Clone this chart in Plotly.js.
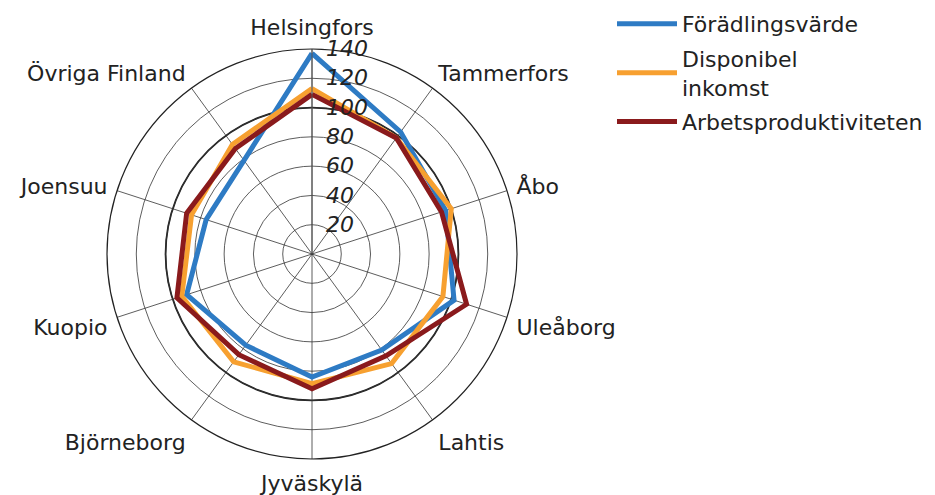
<!DOCTYPE html>
<html><head><meta charset="utf-8">
<script src="https://cdn.plot.ly/plotly-3.0.1.min.js"></script>
<style>html,body{margin:0;padding:0;background:#fff}</style>
</head><body><div id="chart" style="width:935px;height:495px"></div>
<script>
const categories = ["Helsingfors","Tammerfors","Åbo","Uleåborg","Lahtis","Jyväskylä","Björneborg","Kuopio","Joensuu","Övriga Finland"];
const foradlingsvarde = [137,103,96,102,81,84,77,90,76,79];
const disponibelInkomst = [113,98,100,94,92.5,88.5,91,93.5,86.5,92.5];
const arbetsproduktivitet = [109,98,93,111,86,92,85,97,90,89];
const seriesNames = ["Förädlingsvärde","Disponibel<br>inkomst","Arbetsproduktiviteten"];
const seriesColors = ["#2e7bc4","#f7a030","#8a1a1c"];
const radialTicks = [20,40,60,80,100,120,140];

const W = 935, H = 495;
const dom = {x:[107/W, 517/W], y:[36/H, 446/H]};
const rMax = 140;
const cx = (dom.x[0]+dom.x[1])/2*W, cyFromBottom = (dom.y[0]+dom.y[1])/2*H;
const Rpx = (dom.x[1]-dom.x[0])*W/2;
const r100 = 100/rMax*Rpx;

function closed(a){return a.concat([a[0]]);}
const thetaC = closed(categories);
const data = [foradlingsvarde, disponibelInkomst, arbetsproduktivitet].map((v,i)=>({
  type:'scatterpolar', r: closed(v), theta: thetaC, mode:'lines',
  name: seriesNames[i], legendgroup:'g'+i,
  line:{color:seriesColors[i], width:5, shape:'linear'}, hoverinfo:'skip'
}));

const layout = {
  width:W, height:H, margin:{l:0,r:0,t:0,b:0},
  paper_bgcolor:'#fff', font:{family:'DejaVu Sans', color:'#222'},
  showlegend:true,
  legend:{x:612/W, y:1-3/H, xanchor:'left', yanchor:'top', font:{size:22, family:'DejaVu Sans', color:'#222'},
    traceorder:'grouped', tracegroupgap:3, itemwidth:60},
  polar:{
    domain:dom, bgcolor:'rgba(0,0,0,0)',
    angularaxis:{rotation:90, direction:'clockwise', type:'category',
      showline:true, linecolor:'#222', linewidth:1.2,
      gridcolor:'#333', gridwidth:0.8, ticks:'outside', ticklen:5, tickcolor:'rgba(0,0,0,0)',
      tickfont:{size:22, family:'DejaVu Sans', color:'#222'}},
    radialaxis:{range:[0,rMax], angle:90, tickangle:90, tickvals:radialTicks, ticktext:radialTicks.map(String),
      showline:true, linecolor:'#555', linewidth:1, ticks:'outside', ticklen:9, tickcolor:'rgba(0,0,0,0)',
      gridcolor:'#333', gridwidth:0.8,
      tickfont:{size:22, family:'DejaVu Sans', color:'#222', style:'italic'}}
  },
  shapes:[{type:'circle', xref:'paper', yref:'paper', layer:'below',
    x0:(cx-r100)/W, x1:(cx+r100)/W, y0:(cyFromBottom-r100)/H, y1:(cyFromBottom+r100)/H,
    line:{color:'#222', width:1.8}}]
};
Plotly.newPlot('chart', data, layout, {displayModeBar:false, staticPlot:true});
</script></body></html>
